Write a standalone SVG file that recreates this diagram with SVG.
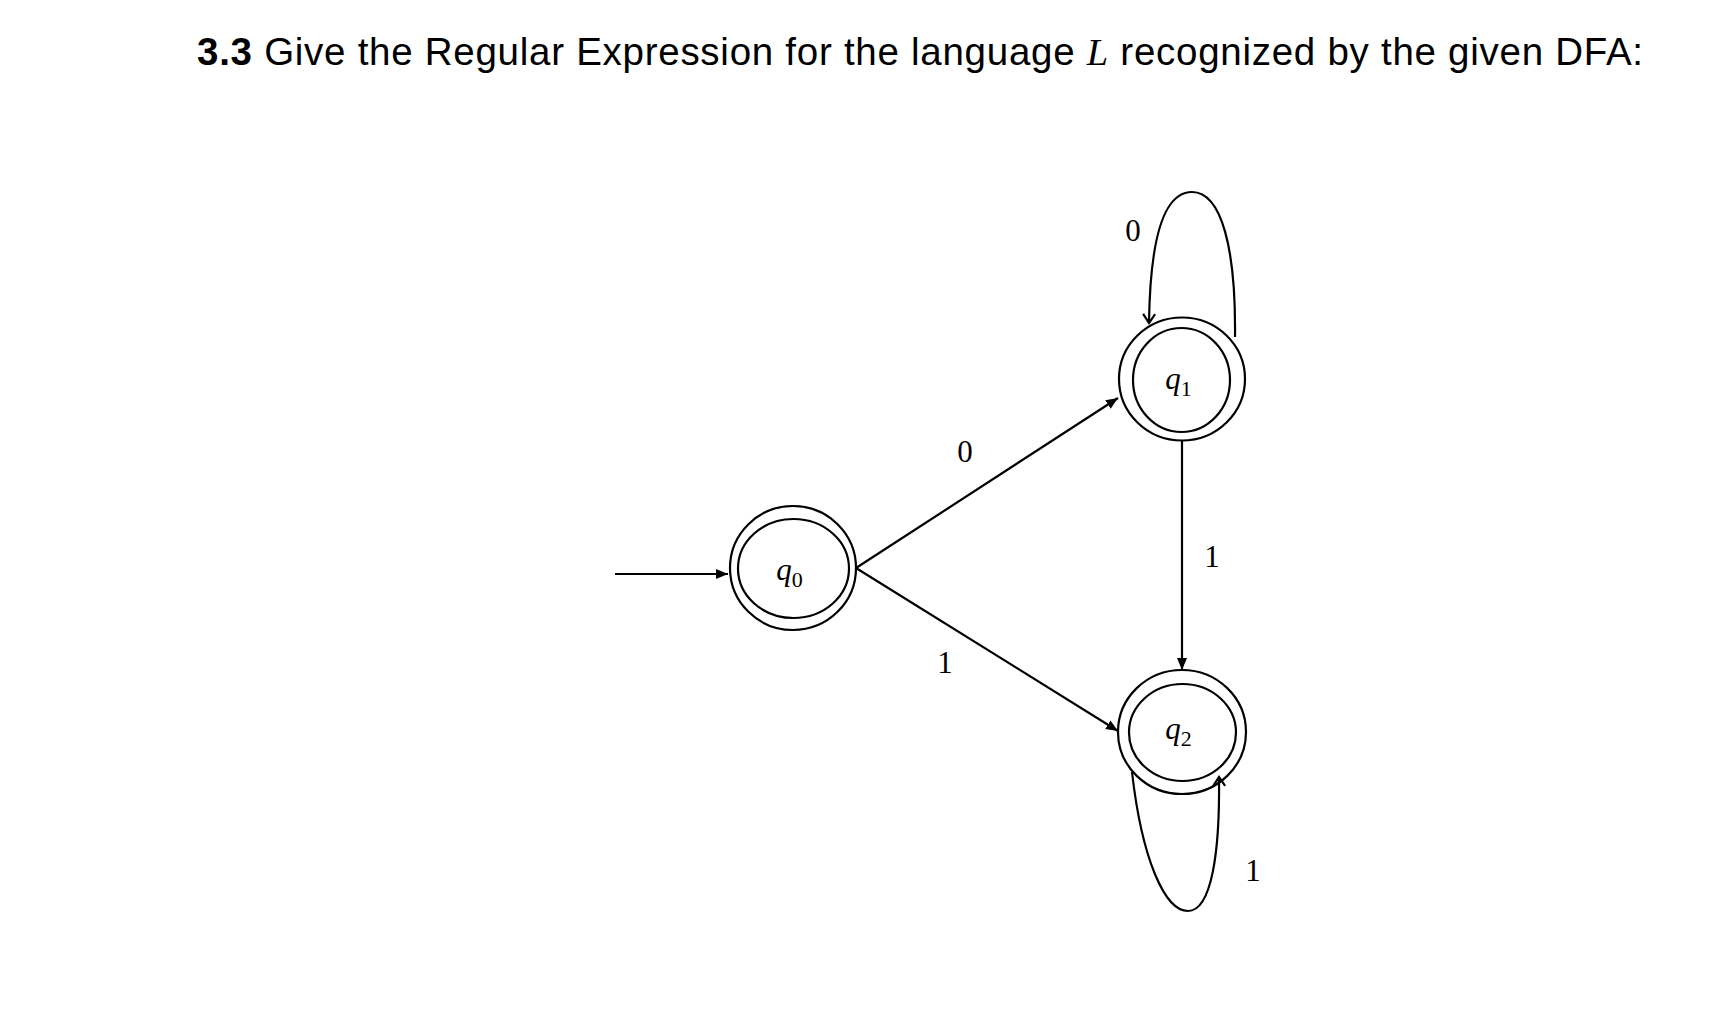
<svg xmlns="http://www.w3.org/2000/svg" width="1726" height="1018" viewBox="0 0 1726 1018">
<style>
.title{font-family:"Liberation Sans",Arial,sans-serif;font-size:38.5px;fill:#000}
.st{fill:none;stroke:#000;stroke-width:2.2}
.lbl{font-family:"Liberation Serif","Times New Roman",serif;font-size:31px;fill:#000;text-anchor:middle}
.qn{font-family:"Liberation Serif","Times New Roman",serif;font-size:31px;fill:#000;text-anchor:middle}
.qi{font-style:italic}
.sub{font-size:22px}
.edge{fill:none;stroke:#000;stroke-width:2.2}
</style>
<defs>
<marker id="ah" markerUnits="userSpaceOnUse" markerWidth="12" markerHeight="10" refX="12" refY="5" orient="auto">
<path d="M0,0 L12,5 L0,10 z" fill="#000"/>
</marker>
<marker id="ao" markerUnits="userSpaceOnUse" markerWidth="12" markerHeight="14" refX="10" refY="7" orient="auto">
<path d="M1,1 L10,7 L1,13" fill="none" stroke="#000" stroke-width="2.2"/>
</marker>
</defs>
<rect width="1726" height="1018" fill="#fff"/>
<text class="title" x="197" y="65" textLength="1446" lengthAdjust="spacing"><tspan font-weight="bold">3.3</tspan> Give the Regular Expression for the language <tspan font-family="Liberation Serif,serif" font-style="italic">L</tspan> recognized by the given DFA:</text>

<g id="connectors">
<line class="edge" x1="615" y1="574" x2="728" y2="574" marker-end="url(#ah)"/>
<line class="edge" x1="856" y1="568" x2="1118" y2="398" marker-end="url(#ah)"/>
<line class="edge" x1="856" y1="568" x2="1118" y2="731" marker-end="url(#ah)"/>
<line class="edge" x1="1182" y1="441" x2="1182" y2="670" marker-end="url(#ah)"/>
<path class="edge" d="M1235,337 C1236,250 1222,192 1192,192 C1160,192 1150,250 1149,323" marker-end="url(#ao)"/>
<path class="edge" d="M1132,772 C1142,860 1165,911 1188,911 C1212,911 1220,850 1219,777" marker-end="url(#ao)"/>
<text class="lbl" x="965" y="462">0</text>
<text class="lbl" x="945" y="673">1</text>
<text class="lbl" x="1212" y="567">1</text>
<text class="lbl" x="1133" y="241">0</text>
<text class="lbl" x="1253" y="881">1</text>
</g>

<g id="q0">
<ellipse class="st" cx="793" cy="568" rx="63" ry="62"/>
<ellipse class="st" cx="793.5" cy="568.5" rx="55.5" ry="49.5"/>
<text class="qn" x="789.5" y="580"><tspan class="qi">q</tspan><tspan class="sub" dy="7">0</tspan></text>
</g>
<g id="q1">
<ellipse class="st" cx="1182" cy="379" rx="63" ry="61.5"/>
<ellipse class="st" cx="1181.5" cy="380" rx="48.5" ry="52"/>
<text class="qn" x="1178.5" y="389"><tspan class="qi">q</tspan><tspan class="sub" dy="7">1</tspan></text>
</g>
<g id="q2">
<ellipse class="st" cx="1182" cy="732" rx="64" ry="62"/>
<ellipse class="st" cx="1182.5" cy="732.5" rx="53.5" ry="48.5"/>
<text class="qn" x="1178.5" y="739"><tspan class="qi">q</tspan><tspan class="sub" dy="7">2</tspan></text>
</g>
</svg>
